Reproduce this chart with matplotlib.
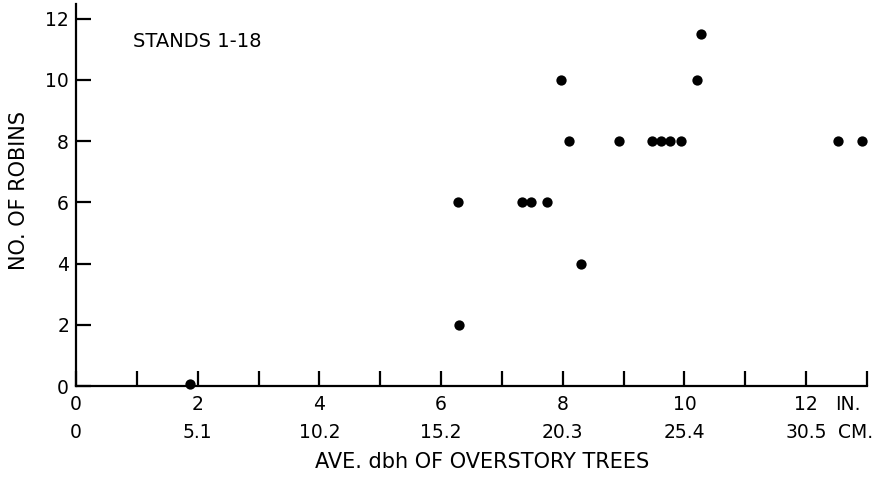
import matplotlib
matplotlib.use("Agg")
import matplotlib.pyplot as plt
from matplotlib.transforms import blended_transform_factory

# Data
dbh_in = [1.87, 6.27, 6.29, 7.33, 7.47, 7.74, 7.97, 8.11, 8.30, 8.92,
          9.47, 9.62, 9.77, 9.95, 10.20, 10.28, 12.52, 12.92]
robins = [0.07, 6, 2, 6, 6, 6, 10, 8, 4, 8,
          8, 8, 8, 8, 10, 11.5, 8, 8]

x_major = [0, 2, 4, 6, 8, 10, 12]
x_in_labels = ["0", "2", "4", "6", "8", "10", "12"]
x_cm_labels = ["0", "5.1", "10.2", "15.2", "20.3", "25.4", "30.5"]
x_all_ticks = list(range(0, 14))
y_ticks = [0, 2, 4, 6, 8, 10, 12]

plt.rcParams['font.family'] = ['DejaVu Sans']

fig = plt.figure(figsize=(8.92, 4.79), dpi=100)
ax = fig.add_axes([76/892, 93/479, 791/892, 382/479])

ax.scatter(dbh_in, robins, s=55, color='black', zorder=5, clip_on=False,
           linewidths=0)

ax.set_xlim(0, 13)
ax.set_ylim(0, 12.48)

for side in ['top', 'right']:
    ax.spines[side].set_visible(False)
for side in ['left', 'bottom']:
    ax.spines[side].set_linewidth(1.6)

ax.set_xticks(x_all_ticks)
ax.set_xticklabels([])
ax.set_yticks(y_ticks)
ax.set_yticklabels([str(v) for v in y_ticks], fontsize=13.5)
ax.tick_params(axis='x', direction='in', length=11, width=1.6)
ax.tick_params(axis='y', direction='in', length=11, width=1.6, pad=5)

trans = blended_transform_factory(ax.transData, ax.transAxes)
px = 1.0 / 382
for xv, lab_in, lab_cm in zip(x_major, x_in_labels, x_cm_labels):
    ax.text(xv, -19 * px, lab_in, transform=trans, ha='center', va='center',
            fontsize=13.5)
    ax.text(xv, -46 * px, lab_cm, transform=trans, ha='center', va='center',
            fontsize=13.5)
ax.text(12.47, -19 * px, "IN.", transform=trans, ha='left', va='center',
        fontsize=13.5)
ax.text(12.52, -46 * px, "CM.", transform=trans, ha='left', va='center',
        fontsize=13.5)

fig.text(482/892, 1 - 462/479, "AVE. dbh OF OVERSTORY TREES", ha='center',
         va='center', fontsize=15)
fig.text(19/892, 1 - 191/479, "NO. OF ROBINS", ha='center', va='center',
         rotation=90, fontsize=15)
ax.text(0.93, 11.25, "STANDS 1-18", ha='left', va='center', fontsize=14)

fig.savefig("out.png", dpi=100)
